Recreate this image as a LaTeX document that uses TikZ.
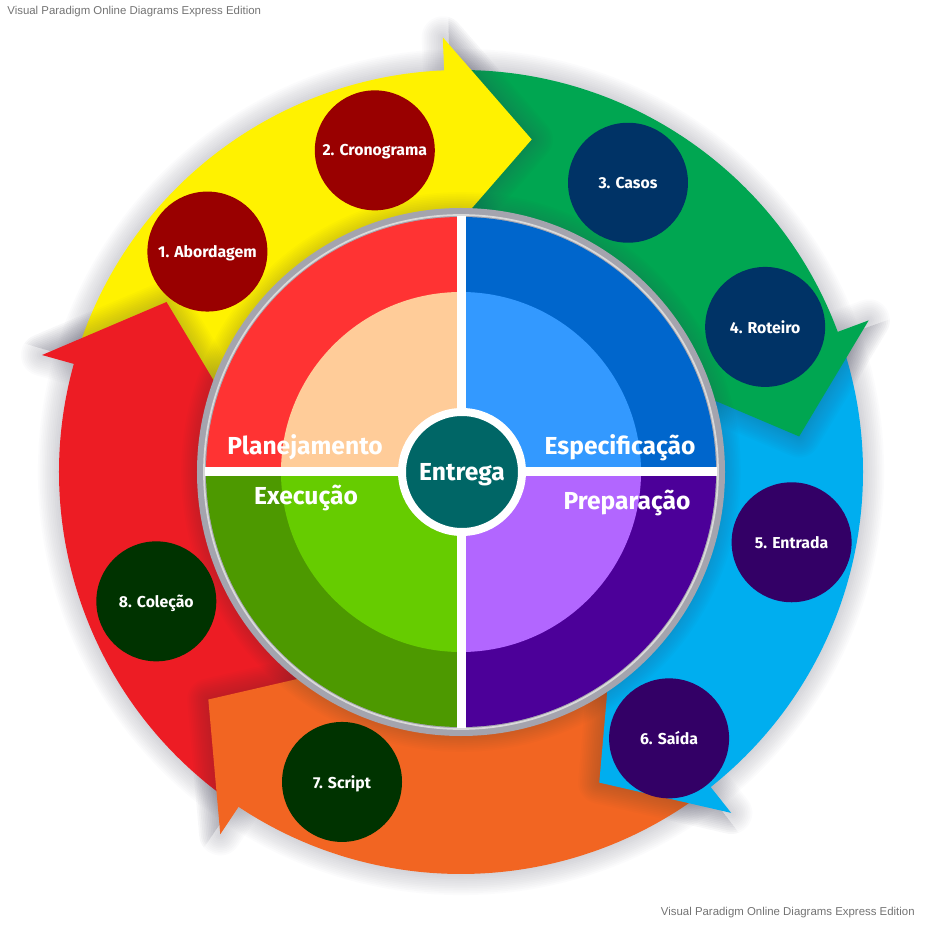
\documentclass[tikz,border=0pt]{standalone}
\usepackage{fontspec}
\setmainfont{Fira Sans}
\newfontfamily\wmfont{Liberation Sans}
\usepackage{tikz}
\usetikzlibrary{positioning,calc}
\usepackage{xcolor}
\definecolor{arrowyellow}{HTML}{FFF200}
\definecolor{arrowgreen}{HTML}{00A651}
\definecolor{arrowcyan}{HTML}{00AEEF}
\definecolor{arroworange}{HTML}{F26522}
\definecolor{arrowred}{HTML}{ED1C24}
\definecolor{dotred}{HTML}{990000}
\definecolor{dotnavy}{HTML}{003366}
\definecolor{dotpurple}{HTML}{330066}
\definecolor{dotgreen}{HTML}{003300}
\definecolor{planout}{HTML}{FF3333}
\definecolor{planin}{HTML}{FFCC99}
\definecolor{specout}{HTML}{0066CC}
\definecolor{specin}{HTML}{3399FF}
\definecolor{execout}{HTML}{4D9900}
\definecolor{execin}{HTML}{66CC00}
\definecolor{prepout}{HTML}{4C0099}
\definecolor{prepin}{HTML}{B266FF}
\definecolor{hubteal}{HTML}{006666}
\definecolor{rimgrey}{HTML}{A4A4AE}
\definecolor{shadegrey}{HTML}{3A3A50}
\tikzset{
  shadeline/.style={draw=shadegrey,opacity=0.02,line join=round},
  stepdot/.style={circle,minimum size=2.4cm,inner sep=0pt,text=white,text depth=0pt,
    font=\bfseries\fontsize{9}{10}\selectfont},
  quadlabel/.style={anchor=base,text=white,inner sep=0pt,
    font=\bfseries\fontsize{14}{16}\selectfont},
  hubdot/.style={circle,fill=hubteal,draw=white,line width=0.16cm,
    minimum size=2.4cm,inner sep=0pt,text=white,text depth=0pt,
    font=\bfseries\fontsize{14}{16}\selectfont},
  wmark/.style={text=black!55,inner sep=0pt,font=\wmfont\fontsize{6.5}{8}\selectfont},
}

\begin{document}
\begin{tikzpicture}[x=0.02cm,y=0.02cm]
\useasboundingbox (-461,-457) rectangle (466,472);

% soft shadow behind the ring and the heads
\foreach \w in {2,4,...,24}
  \draw[shadeline,line width=\w pt] (0,0) circle[radius=402];
\foreach \tip in {78,6,-66,-138,-210}{
  \pgfmathsetmacro\base{\tip+14.4}
  \foreach \w in {2,4,...,24}
    \draw[shadeline,line width=\w pt] (\base:240) -- (\base:435) -- (\tip:340) -- cycle;
}

% ring bodies (both ends hidden under the heads)
\foreach \tip/\col in {78/arrowyellow,6/arrowgreen,-66/arrowcyan,-138/arroworange,-210/arrowred}{
  \pgfmathsetmacro\stop{\tip+13.4}
  \pgfmathsetmacro\tail{\tip+85.4}
  \fill[\col] (\tail:258) arc[start angle=\tail,end angle=\stop,radius=258]
    -- (\stop:402) arc[start angle=\stop,end angle=\tail,radius=402] -- cycle;
}

% ring heads
\foreach \tip/\col in {78/arrowyellow,6/arrowgreen,-66/arrowcyan,-138/arroworange,-210/arrowred}{
  \pgfmathsetmacro\base{\tip+14.4}
  \pgfmathsetmacro\cut{\tip+13.6}
  \pgfmathsetmacro\lo{\tip-30}
  \begin{scope}
    \clip (0,0) -- (\cut:520) arc[start angle=\cut,end angle=\lo,radius=520] -- cycle;
    \foreach \w in {2,4,...,24}
      \draw[shadeline,line width=\w pt] (\base:240) -- (\base:435) -- (\tip:340) -- cycle;
  \end{scope}
  \fill[\col] (\base:240) -- (\base:435) -- (\tip:340) -- cycle;
}

% grey rim of the disc
\foreach \w in {2,4,...,18}
  \draw[shadeline,line width=\w pt] (0,0) circle[radius=264];
\fill[rimgrey] (0,0) circle[radius=264];
\draw[black!15,line width=1pt] (0,0) circle[radius=257];

% quadrants
\foreach \a/\outc/\inc in {0/specout/specin,90/planout/planin,180/execout/execin,270/prepout/prepin}{
  \fill[\outc] (0,0) -- (\a:255) arc[start angle=\a,delta angle=90,radius=255] -- cycle;
  \fill[\inc] (0,0) -- (\a:180) arc[start angle=\a,delta angle=90,radius=180] -- cycle;
}
\draw[white,line width=0.18cm] (0,-256) -- (0,256) (-256,0) -- (256,0);

\node[quadlabel] (plan) at (-156,17) {Planejamento};
\node[quadlabel] (spec) at (159,17) {Especificação};
\node[quadlabel] (exec) at (-155,-33) {Execução};
\node[quadlabel] (prep) at (166,-38) {Preparação};
\node[hubdot] (hub) at (1,0) {Entrega};

% steps on the ring
\node[stepdot,fill=dotred] (s1) at (139:336) {1. Abordagem};
\node[stepdot,fill=dotred] (s2) at (105:333) {2. Cronograma};
\node[stepdot,fill=dotnavy] (s3) at (60:334) {3. Casos};
\node[stepdot,fill=dotnavy] (s4) at (25.5:337) {4. Roteiro};
\node[stepdot,fill=dotpurple] (s5) at (-12:338) {5. Entrada};
\node[stepdot,fill=dotpurple] (s6) at (-52:338) {6. Saída};
\node[stepdot,fill=dotgreen] (s7) at (-111:332) {7. Script};
\node[stepdot,fill=dotgreen] (s8) at (-157:331) {8. Coleção};

\node[wmark,anchor=west] (wmtop) at (-454,460) {Visual Paradigm Online Diagrams Express Edition};
\node[wmark,anchor=east] (wmbot) at (454,-441) {Visual Paradigm Online Diagrams Express Edition};

\end{tikzpicture}
\end{document}
